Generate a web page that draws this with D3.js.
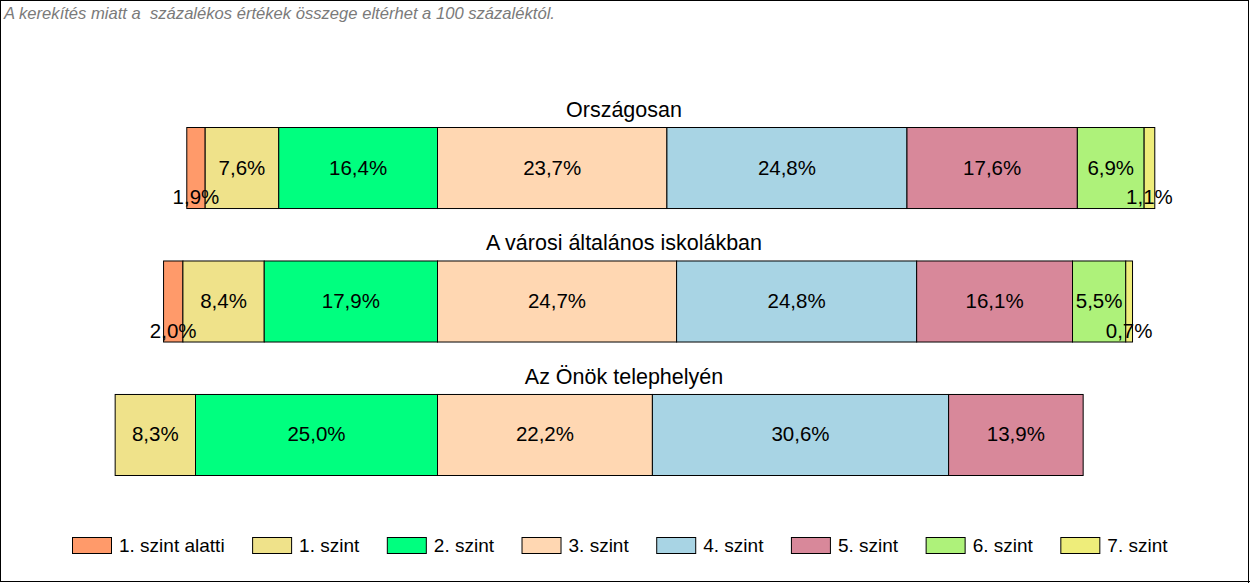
<!DOCTYPE html>
<html>
<head>
<meta charset="utf-8">
<script src="https://cdn.jsdelivr.net/npm/d3@7"></script>
<style>
  html, body { margin: 0; padding: 0; background: #fff; }
  svg { display: block; font-family: "Liberation Sans", Arial, sans-serif; }
</style>
</head>
<body>
<svg id="chart" width="1250" height="583"></svg>
<script>
// ---- data ----
const categories = ["1. szint alatti", "1. szint", "2. szint", "3. szint", "4. szint", "5. szint", "6. szint", "7. szint"];
const colors = ["#ff9a6a", "#efe28a", "#00ff7f", "#ffd7b2", "#a8d4e4", "#d8889a", "#aef27a", "#eeed7a"];
const groups = ["Országosan", "A városi általános iskolákban", "Az Önök telephelyén"];
const valuesOrszagosan = [1.9, 7.6, 16.4, 23.7, 24.8, 17.6, 6.9, 1.1];
const valuesVarosi = [2.0, 8.4, 17.9, 24.7, 24.8, 16.1, 5.5, 0.7];
const valuesTelephely = [0, 8.3, 25.0, 22.2, 30.6, 13.9, 0, 0];
const seriesValues = [valuesOrszagosan, valuesVarosi, valuesTelephely];
const alignIndex = 3; // bars aligned at the start of "3. szint"
const note = "A kerekítés miatt a  százalékos értékek összege eltérhet a 100 százaléktól.";

// ---- layout ----
const W = 1250, H = 583;
const svg = d3.select("#chart");

// x scale: 0 = start of "3. szint"
const x = d3.scaleLinear().domain([-40, 80]).range([437 - 40 * 9.68, 437 + 80 * 9.68]);
const y = d3.scaleBand().domain(groups).range([127, 475]).paddingInner(0.393).paddingOuter(0);

// border
svg.append("rect").attr("x", 0.5).attr("y", 0.5).attr("width", 1248).attr("height", 581)
  .attr("fill", "#fff").attr("stroke", "#000").attr("stroke-width", 1);
svg.append("line").attr("x1", 1248.5).attr("x2", 1248.5).attr("y1", 0).attr("y2", 583).attr("stroke", "#000").attr("stroke-width", 1);
svg.append("line").attr("x1", 0).attr("x2", 1250).attr("y1", 581.5).attr("y2", 581.5).attr("stroke", "#000").attr("stroke-width", 1);

// note
svg.append("text").attr("x", 4).attr("y", 19)
  .style("white-space", "pre")
  .attr("font-size", 16.6).attr("font-style", "italic").attr("fill", "#7a7a7a")
  .text(note);

const fmt = v => d3.format(".1f")(v).replace(".", ",") + "%";

groups.forEach((g, gi) => {
  const vals = seriesValues[gi];
  const before = d3.sum(vals.slice(0, alignIndex));
  let cum = -before;
  const segs = vals.map((v, i) => {
    const s = { v, i, x0: cum, x1: cum + v };
    cum += v;
    return s;
  }).filter(s => s.v > 0);

  const row = svg.append("g");
  const y0 = y(g), bh = y.bandwidth();

  row.append("text")
    .attr("x", 624).attr("y", y0 - 10)
    .attr("text-anchor", "middle").attr("font-size", 21.5).attr("fill", "#000")
    .text(g);

  row.selectAll("rect").data(segs).join("rect")
    .attr("x", d => x(d.x0) + 0.5)
    .attr("y", y0 + 0.5)
    .attr("width", d => x(d.x1) - x(d.x0))
    .attr("height", bh)
    .attr("fill", d => colors[d.i])
    .attr("stroke", "#000").attr("stroke-width", 1);

  row.selectAll("text.lbl").data(segs).join("text")
    .attr("class", "lbl")
    .attr("x", d => (x(d.x0) + x(d.x1)) / 2 + 0.5)
    .attr("y", d => d.v < 3 ? y0 + bh - 4 : y0 + bh / 2 + 7)
    .attr("text-anchor", "middle").attr("font-size", 20.5).attr("fill", "#000")
    .text(d => fmt(d.v));
});

// legend
const legend = svg.append("g");
let lx = 72;
categories.forEach((c, i) => {
  legend.append("rect").attr("x", lx + 0.5).attr("y", 537.5).attr("width", 39).attr("height", 16)
    .attr("fill", colors[i]).attr("stroke", "#000").attr("stroke-width", 1);
  const t = legend.append("text").attr("x", lx + 47).attr("y", 552)
    .attr("font-size", 19).attr("fill", "#000").text(c);
  const tw = t.node().getComputedTextLength();
  lx += 47 + tw + 27.5;
});
</script>
</body>
</html>
